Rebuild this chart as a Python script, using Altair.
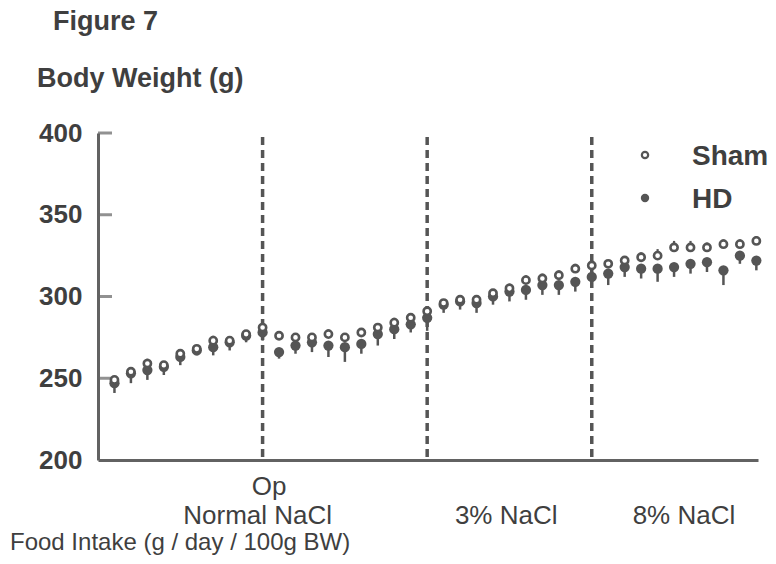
import altair as alt
import pandas as pd

# Day index of each measurement (0..39)
days = list(range(40))

# Mean body weight (g)
sham_mean = [249, 254, 259, 258, 265, 268, 273, 273, 277, 281,
             276, 275, 275, 277, 275, 278, 281, 284, 287, 291,
             296, 298, 298, 302, 305, 310, 311, 313, 317, 319,
             320, 322, 324, 325, 330, 330, 330, 332, 332, 334]
hd_mean = [247, 253, 255, 257, 263, 267, 269, 272, 276, 278,
           266, 270, 272, 270, 269, 271, 277, 280, 283, 287,
           295, 297, 296, 300, 303, 304, 307, 307, 309, 312,
           314, 318, 317, 317, 318, 320, 321, 316, 325, 322]

# Spread (g): Sham drawn upward, HD drawn downward
sham_sd = [2, 2, 3, 2, 2, 2, 3, 2, 2, 3,
           2, 2, 2, 3, 2, 2, 2, 3, 2, 3,
           2, 2, 2, 2, 3, 3, 3, 3, 3, 3,
           2, 2, 3, 4, 4, 4, 3, 3, 3, 3]
hd_sd = [6, 6, 6, 5, 5, 3, 5, 5, 4, 5,
         4, 5, 6, 7, 9, 6, 7, 6, 5, 8,
         5, 5, 6, 5, 6, 6, 6, 6, 6, 4,
         7, 6, 6, 8, 6, 6, 6, 9, 5, 6]

# Phase boundaries (operation, switch to 3% NaCl, switch to 8% NaCl)
boundaries = [9, 19, 29]
boundary_top = 397.5

# Labels under the x axis
op_label = "Op"
op_label_x = 9.4
phase_labels = ["Normal NaCl", "3% NaCl", "8% NaCl"]
phase_label_x = [8.7, 23.8, 34.6]

y_ticks = [250, 300, 350, 400]

FONT = "Liberation Sans"
INK = "#3f3f3f"
MARK = "#555555"
AXIS_INK = "#626262"

W, H = 660, 327
x_scale = alt.Scale(domain=[-1, 39.1], nice=False, zero=False)
y_scale = alt.Scale(domain=[200, 400], nice=False, zero=False)

X_AXIS = alt.Axis(domain=True, domainColor=AXIS_INK, domainWidth=3,
                  ticks=False, labels=False, grid=False, title=None)
Y_AXIS = alt.Axis(domain=True, domainColor=AXIS_INK, domainWidth=3,
                  ticks=False, grid=False, title=None, values=[200, 250, 300, 350, 400],
                  labelFont=FONT, labelFontSize=26, labelFontWeight="bold",
                  labelColor=INK, labelPadding=16)


def xq(field):
    return alt.X(field, type="quantitative", scale=x_scale, axis=X_AXIS)


def yq(field):
    return alt.Y(field, type="quantitative", scale=y_scale, axis=Y_AXIS)


df = pd.DataFrame({
    "day": days,
    "sham": sham_mean,
    "hd": hd_mean,
    "sham_hi": [m + s for m, s in zip(sham_mean, sham_sd)],
    "hd_lo": [m - s for m, s in zip(hd_mean, hd_sd)],
})

base = alt.Chart(df)

# Inward tick marks on the y axis
ticks = alt.Chart(pd.DataFrame({"v": y_ticks})).mark_tick(
    color=AXIS_INK, thickness=3, size=14
).encode(x=alt.value(7), y=yq("v"))

# Dashed phase boundaries
bounds = alt.Chart(pd.DataFrame({"d": boundaries})).transform_calculate(
    top=str(boundary_top), bottom="200"
).mark_rule(color=MARK, strokeWidth=3.5, strokeDash=[8, 5]).encode(
    x=xq("d"), y=yq("top"), y2="bottom:Q",
)

hd_err = base.mark_rule(color=MARK, strokeWidth=2.5).encode(
    x=xq("day"), y=yq("hd_lo"), y2="hd:Q"
)
sham_err = base.mark_rule(color=MARK, strokeWidth=2.2).encode(
    x=xq("day"), y=yq("sham"), y2="sham_hi:Q"
)
hd_pts = base.mark_point(filled=True, shape="circle", size=105, color=MARK, opacity=1).encode(
    x=xq("day"), y=yq("hd")
)
sham_pts = base.mark_point(shape="circle", size=52, stroke=MARK, strokeWidth=2.6,
                           fill="white", fillOpacity=1, opacity=1).encode(
    x=xq("day"), y=yq("sham")
)

# Labels under the axis
op_text = alt.Chart(pd.DataFrame({"label": [op_label], "x": [op_label_x]})).mark_text(
    font=FONT, fontSize=26, color=INK, align="center", baseline="alphabetic"
).encode(x=xq("x"), y=alt.value(362), text="label:N")

phase_text = alt.Chart(pd.DataFrame({"label": phase_labels, "x": phase_label_x})).mark_text(
    font=FONT, fontSize=26, color=INK, align="center", baseline="alphabetic"
).encode(x=xq("x"), y=alt.value(391), text="label:N")


def text_at(label, x, y, size, weight="normal", align="left"):
    return alt.Chart(pd.DataFrame({"t": [label]})).mark_text(
        font=FONT, fontSize=size, fontWeight=weight, color=INK,
        align=align, baseline="alphabetic"
    ).encode(text="t:N", x=alt.value(x), y=alt.value(y))


fig_title = text_at("Figure 7", -45, -103, 27, "bold")
y_title = text_at("Body Weight (g)", -61, -46, 27, "bold")
x_title = text_at("Food Intake (g / day / 100g BW)", -88, 417, 24)

# Legend
leg_sham_sym = alt.Chart(pd.DataFrame({"k": [0]})).mark_point(
    shape="circle", size=40, stroke=MARK, strokeWidth=2.2, fill="white", fillOpacity=1, opacity=1
).encode(x=alt.value(547), y=alt.value(22))
leg_hd_sym = alt.Chart(pd.DataFrame({"k": [0]})).mark_point(
    shape="circle", size=70, filled=True, color=MARK, opacity=1
).encode(x=alt.value(547), y=alt.value(65))
leg_sham_txt = text_at("Sham", 594, 32, 28, "bold")
leg_hd_txt = text_at("HD", 594, 75, 28, "bold")

chart = alt.layer(
    ticks, bounds, hd_err, sham_err, hd_pts, sham_pts,
    op_text, phase_text, fig_title, y_title, x_title,
    leg_sham_sym, leg_hd_sym, leg_sham_txt, leg_hd_txt,
).properties(
    width=W, height=H,
    padding={"left": 98, "top": 133, "right": 18, "bottom": 104},
    autosize=alt.AutoSizeParams(type="none"),
    background="white",
).configure_view(stroke=None)

chart.save("out.html", embed_options={"renderer": "svg", "actions": False})
